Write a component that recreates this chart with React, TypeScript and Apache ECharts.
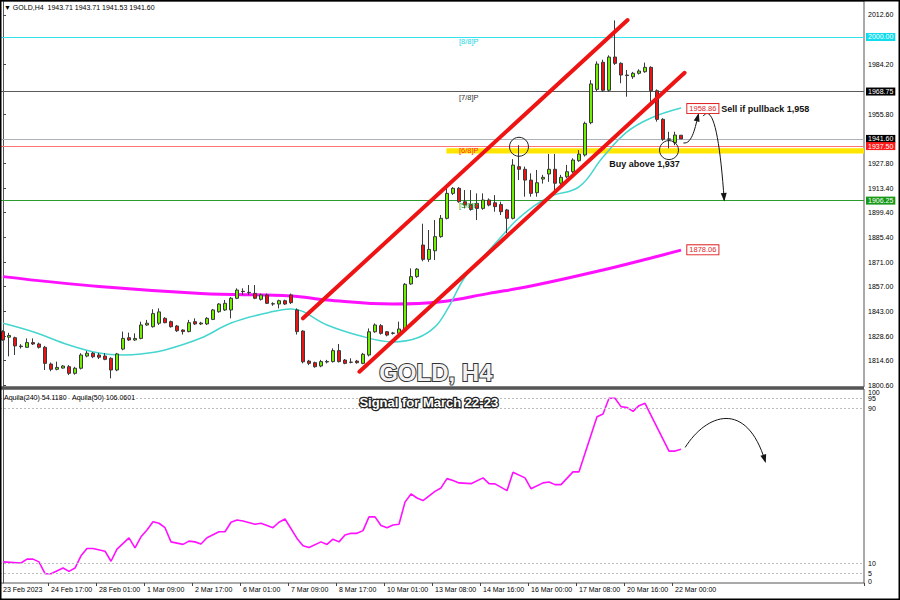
import React, { useEffect, useRef } from "react";
import * as echarts from "echarts";

// [open, high, low, close] for each H4 bar
const candles: [number, number, number, number][] = [
  [1831.2, 1832.0, 1826.0, 1826.4], [1828.0, 1830.5, 1817.0, 1829.0], [1827.7, 1828.3, 1817.8, 1823.0],
  [1822.6, 1824.0, 1821.5, 1822.9], [1822.2, 1827.3, 1821.8, 1824.9], [1824.9, 1827.3, 1823.5, 1824.1],
  [1824.1, 1824.9, 1821.5, 1822.2], [1822.2, 1823.0, 1809.2, 1813.0], [1812.6, 1813.5, 1808.5, 1809.6],
  [1809.6, 1814.0, 1809.0, 1810.7], [1810.3, 1812.0, 1810.0, 1811.5], [1811.1, 1812.0, 1806.3, 1807.3],
  [1807.3, 1811.0, 1806.5, 1810.2], [1810.2, 1818.8, 1809.5, 1817.8], [1817.2, 1820.1, 1816.5, 1818.8],
  [1818.8, 1819.5, 1816.0, 1816.8], [1817.8, 1819.0, 1815.5, 1816.5], [1817.2, 1818.8, 1814.8, 1815.3],
  [1815.9, 1816.5, 1804.4, 1809.2], [1809.2, 1819.0, 1808.5, 1818.4], [1821.2, 1831.2, 1820.5, 1827.3],
  [1827.7, 1830.6, 1825.8, 1826.4], [1826.4, 1830.2, 1825.9, 1827.3], [1827.3, 1836.9, 1826.8, 1835.0],
  [1835.0, 1837.9, 1834.5, 1836.0], [1834.0, 1844.0, 1833.5, 1841.5], [1836.0, 1844.5, 1835.0, 1842.5],
  [1838.8, 1839.5, 1836.0, 1836.3], [1836.9, 1837.5, 1833.5, 1834.0], [1834.4, 1835.0, 1831.0, 1831.7],
  [1832.1, 1832.5, 1829.5, 1831.2], [1831.2, 1837.9, 1830.8, 1836.3], [1836.9, 1838.8, 1835.0, 1835.6],
  [1835.6, 1836.8, 1835.0, 1836.1], [1835.6, 1839.5, 1835.0, 1838.8], [1838.2, 1844.2, 1837.8, 1843.6],
  [1842.6, 1847.5, 1842.0, 1847.0], [1843.6, 1849.3, 1843.0, 1847.4], [1843.6, 1851.0, 1838.8, 1850.3],
  [1850.3, 1856.0, 1849.8, 1855.0], [1854.1, 1856.0, 1852.2, 1854.3], [1853.7, 1857.9, 1852.2, 1853.5],
  [1853.1, 1857.9, 1849.8, 1850.3], [1849.7, 1853.0, 1849.0, 1852.2], [1852.2, 1853.0, 1847.0, 1847.4],
  [1847.0, 1848.0, 1846.0, 1847.2], [1847.0, 1849.5, 1844.5, 1848.9], [1848.9, 1849.5, 1846.5, 1847.0],
  [1852.2, 1853.0, 1847.0, 1847.8], [1843.6, 1844.5, 1829.5, 1831.2], [1831.5, 1832.0, 1813.0, 1813.9],
  [1814.3, 1815.0, 1812.0, 1813.0], [1813.4, 1814.0, 1810.5, 1811.1], [1811.5, 1815.0, 1810.8, 1814.0],
  [1813.8, 1815.0, 1813.0, 1814.1], [1814.0, 1821.6, 1813.5, 1820.3], [1820.3, 1824.1, 1813.5, 1814.0],
  [1814.9, 1815.5, 1812.5, 1813.0], [1813.6, 1815.9, 1813.0, 1813.7], [1814.3, 1815.0, 1812.8, 1813.4],
  [1813.0, 1819.0, 1812.5, 1818.2], [1817.8, 1833.0, 1817.0, 1831.1], [1831.1, 1835.9, 1830.5, 1835.0],
  [1834.6, 1835.5, 1829.5, 1830.2], [1831.1, 1831.5, 1828.5, 1829.2], [1830.2, 1831.0, 1829.5, 1830.4],
  [1830.2, 1836.9, 1829.8, 1832.7], [1831.7, 1859.0, 1831.0, 1858.3], [1858.5, 1867.4, 1858.0, 1862.7],
  [1862.7, 1867.6, 1862.0, 1867.0], [1880.8, 1893.0, 1871.5, 1872.6], [1872.6, 1889.4, 1871.2, 1878.3],
  [1877.5, 1895.1, 1872.2, 1885.6], [1885.6, 1898.0, 1885.0, 1896.1], [1896.1, 1914.2, 1895.5, 1910.4],
  [1910.4, 1914.0, 1909.5, 1913.3], [1913.3, 1914.0, 1905.0, 1905.6], [1905.6, 1912.3, 1901.8, 1903.7],
  [1904.0, 1912.3, 1900.5, 1901.2], [1904.7, 1910.4, 1895.1, 1901.8], [1901.8, 1910.4, 1901.0, 1906.6],
  [1906.6, 1907.5, 1903.0, 1903.7], [1905.0, 1909.4, 1899.9, 1902.8], [1904.0, 1905.6, 1898.0, 1899.9],
  [1900.9, 1901.5, 1887.5, 1896.1], [1896.1, 1930.0, 1895.5, 1926.6], [1925.7, 1938.0, 1918.0, 1924.2],
  [1924.2, 1925.7, 1908.5, 1918.0], [1918.0, 1921.9, 1908.5, 1910.4], [1910.8, 1923.8, 1908.5, 1916.5],
  [1918.6, 1921.0, 1916.0, 1919.6], [1921.5, 1933.0, 1917.0, 1924.2], [1924.2, 1933.0, 1911.4, 1916.2],
  [1916.2, 1921.0, 1915.0, 1919.6], [1919.9, 1926.7, 1919.0, 1922.8], [1922.8, 1930.5, 1922.0, 1929.5],
  [1929.1, 1935.2, 1928.5, 1932.9], [1932.4, 1951.5, 1931.5, 1950.5], [1950.9, 1975.3, 1950.0, 1973.1],
  [1970.0, 1986.0, 1969.0, 1984.5], [1985.5, 1987.0, 1968.5, 1969.5], [1969.5, 1989.5, 1968.5, 1988.5],
  [1988.5, 2009.5, 1984.0, 1984.9], [1984.9, 1985.5, 1973.5, 1978.2], [1978.2, 1981.1, 1965.8, 1977.9],
  [1977.2, 1980.0, 1976.0, 1979.2], [1979.2, 1981.5, 1978.5, 1980.5], [1980.1, 1985.3, 1979.5, 1982.6],
  [1982.6, 1983.2, 1962.9, 1969.2], [1969.2, 1970.0, 1951.5, 1952.8], [1952.8, 1953.5, 1940.5, 1941.4],
  [1941.4, 1945.7, 1936.2, 1941.6], [1939.4, 1945.7, 1938.0, 1943.8], [1943.71, 1943.71, 1941.53, 1941.6],
];

const tickLabels = [
  "23 Feb 2023", "24 Feb 17:00", "28 Feb 01:00", "1 Mar 09:00", "2 Mar 17:00", "6 Mar 01:00",
  "7 Mar 09:00", "8 Mar 17:00", "10 Mar 01:00", "13 Mar 08:00", "14 Mar 16:00", "16 Mar 00:00",
  "17 Mar 08:00", "20 Mar 16:00", "22 Mar 00:00",
];
const TOTAL_SLOTS = 144;
const LABEL_EVERY = 8;

// moving averages: [bar index, price]
const maFast: [number, number][] = [
  [0, 1836.0], [5, 1831.1], [11, 1823.5], [16, 1818.9], [20, 1817.8], [23, 1818.4], [27, 1820.7],
  [33, 1827.5], [38, 1836.1], [44, 1841.9], [48, 1844.2], [54, 1835.0], [59, 1829.3], [65, 1825.3],
  [69, 1827.5], [72, 1833.9], [74, 1843.6], [77, 1862.5], [80, 1873.9], [83, 1885.4], [86, 1896.3],
  [91, 1908.3], [96, 1914.1], [100, 1931.2], [104, 1945.6], [108, 1953.6], [113, 1959.3],
];
const maSlow: [number, number][] = [
  [0, 1862.7], [16, 1857.0], [33, 1853.1], [48, 1851.6], [54, 1849.3], [65, 1847.0], [73, 1848.3],
  [81, 1853.1], [88, 1857.3], [100, 1866.5], [108, 1873.4], [113, 1877.9],
];

// Aquila oscillator: [bar index, value]
const aquila: [number, number][] = [
  [0, 10.9], [3, 10.3], [4, 12.3], [5, 12.3], [6, 10.9], [7, 4.8], [8, 4.8], [10, 7.7], [11, 6.0],
  [12, 7.7], [13, 14.0], [14, 17.8], [15, 17.8], [17, 16.4], [18, 11.2], [19, 17.5], [21, 23.3],
  [22, 18.1], [23, 23.8], [24, 27.3], [25, 31.6], [26, 30.8], [27, 28.5], [28, 21.2], [30, 19.9],
  [31, 21.6], [32, 21.2], [33, 20.1], [34, 23.3], [36, 26.4], [37, 26.4], [38, 31.3], [39, 32.5],
  [40, 32.0], [42, 30.3], [43, 30.8], [45, 28.5], [46, 31.3], [47, 33.0], [49, 23.0], [50, 19.2],
  [51, 18.3], [53, 21.2], [54, 19.9], [55, 22.6], [56, 21.2], [57, 24.7], [58, 25.6], [59, 25.6],
  [60, 27.0], [61, 34.1], [62, 34.1], [63, 29.6], [64, 28.5], [65, 29.9], [66, 30.3], [67, 41.7],
  [68, 45.9], [69, 43.8], [70, 42.5], [72, 47.2], [73, 49.0], [74, 53.8], [75, 52.8], [76, 51.6],
  [78, 51.2], [80, 54.2], [81, 51.2], [82, 51.1], [84, 47.6], [85, 57.1], [87, 54.2], [88, 48.6],
  [90, 51.6], [91, 52.1], [92, 50.7], [93, 50.7], [95, 57.3], [96, 57.3], [99, 85.7], [100, 87.1],
  [101, 95.2], [102, 95.2], [103, 90.9], [104, 90.5], [105, 88.5], [106, 91.4], [107, 92.6],
  [111, 68.0], [112, 68.0], [113, 68.9],
];

const priceTicks = [2012.6, 1984.2, 1955.8, 1927.8, 1913.4, 1899.4, 1885.4, 1871.0, 1857.0, 1843.0, 1828.6, 1814.6, 1800.6];
const oscTicks = [5, 10, 90, 95];
const oscEdgeTicks = [100, 0];
const oscLevels = [95, 90, 10, 5];
const levelPrices = [2000.0, 1968.75, 1941.6, 1937.5, 1906.25];
const levelNames = ["[8/8]P", "[7/8]P", "[6/8]P", "[5/8]P"];
const levelNamePrices = [1997.7, 1965.6, 1935.0, 1903.7];
const maFastValue = 1958.86;
const maSlowValue = 1878.06;
const header = "▼ GOLD,H4  1943.71 1943.71 1941.53 1941.60";
const oscHeader = "Aquila(240) 54.1180   Aquila(50) 106.0601";

// annotation anchors in [bar index, price]
const upperChannel: [number, number][] = [[50, 1838.8], [104.1, 2009.7]];
const lowerChannel: [number, number][] = [[59.4, 1808.2], [113.6, 1979.5]];
const bandStart = 73.9;
const bandPrices = [1936.2, 1933.3];
const circles: [number, number][] = [[86, 1937.1], [111, 1935.2]];
const arrowUp: [number, number][] = [[113.4, 1939.3], [114.9, 1938.4], [115.4, 1949.0], [115.9, 1955.6]];
const arrowDown: [number, number][] = [[116.7, 1954.7], [118.4, 1962.0], [119.5, 1941.0], [120.2, 1906.6]];
const oscArrow: [number, number][] = [[113.7, 69.9], [117.2, 87.1], [123.9, 94.9], [127.05, 62.6]];

export default function App() {
  const ref = useRef<HTMLDivElement>(null);

  useEffect(() => {
    const chart = echarts.init(ref.current!, null, { renderer: "svg" });
    const FONT = "Liberation Sans, Arial, sans-serif";
    const cats = Array.from({ length: TOTAL_SLOTS }, (_, i) => String(i));
    const labelInterval = (index: number) =>
      index % LABEL_EVERY === 0 && index / LABEL_EVERY < tickLabels.length;

    const levelLine = ["#30e4ee", "#5a5a5a", "#aab3bb", "#ff7474", "#2b9b2b"];
    const levelBg = ["#10dcee", "#000000", "#000000", "#ff1a1a", "#179917"];

    chart.setOption({
      animation: false,
      textStyle: { fontFamily: FONT },
      grid: [
        { left: -1, right: 36, top: 1, height: 386, show: true, borderColor: "#555", borderWidth: 1 },
        { left: -1, right: 36, top: 389, height: 194, show: true, borderColor: "#555", borderWidth: 1 },
      ],
      xAxis: [
        { type: "category", gridIndex: 0, data: cats, axisLine: { show: false }, axisTick: { show: false }, axisLabel: { show: false } },
        {
          type: "category", gridIndex: 1, data: cats, axisLine: { show: false },
          axisTick: { show: true, interval: labelInterval, length: 3, lineStyle: { color: "#444" } },
          axisLabel: {
            interval: labelInterval, formatter: (_v: string, i: number) => tickLabels[i / LABEL_EVERY] ?? "",
            align: "left", fontSize: 7, color: "#000", margin: 3,
          },
        },
        { type: "value", gridIndex: 0, min: -0.5, max: TOTAL_SLOTS - 0.5, show: false },
        { type: "value", gridIndex: 1, min: -0.5, max: TOTAL_SLOTS - 0.5, show: false },
      ],
      yAxis: [
        {
          type: "value", gridIndex: 0, position: "right", min: 1799.46, max: 2020.62, scale: true,
          splitLine: { show: false },
          axisLine: { show: true, lineStyle: { color: "#555" } },
          axisTick: { show: true, customValues: priceTicks, length: 3, lineStyle: { color: "#444" } },
          axisLabel: { customValues: priceTicks, formatter: (v: number) => v.toFixed(2), fontSize: 7, color: "#000", margin: 4 },
        },
        {
          type: "value", gridIndex: 1, position: "right", min: 0, max: 100,
          splitLine: { show: false },
          axisLine: { show: true, lineStyle: { color: "#555" } },
          axisTick: { show: false },
          axisLabel: { customValues: oscTicks, formatter: (v: number) => String(v), fontSize: 7, color: "#000", margin: 4 },
        },
      ],
      series: [
        {
          type: "line", xAxisIndex: 0, yAxisIndex: 0, data: maSlow, smooth: 0.4, showSymbol: false, z: 1,
          lineStyle: { color: "#ff10ff", width: 3 },
        },
        {
          type: "line", xAxisIndex: 0, yAxisIndex: 0, data: maFast, smooth: 0.4, showSymbol: false, z: 1,
          lineStyle: { color: "#45d6d0", width: 1.5 },
        },
        {
          type: "candlestick", xAxisIndex: 0, yAxisIndex: 0, z: 3, barWidth: 4,
          data: candles.map(([o, h, l, c]) => [o, c, l, h]),
          itemStyle: { color: "#6fee00", color0: "#ee1212", borderColor: "#3a3a3a", borderColor0: "#3a3a3a", borderWidth: 1 },
          markLine: {
            silent: true, symbol: ["none", "none"], z: 2,
            data: levelPrices.map((v, k) => ({
              yAxis: v,
              lineStyle: { color: levelLine[k], width: 1, type: "solid" },
              label: {
                show: true, position: "end", formatter: v.toFixed(2), distance: 2,
                backgroundColor: levelBg[k], color: "#fff", fontSize: 7, padding: [1, 2, 0, 2],
              },
            })),
          },
        },
        {
          type: "line", xAxisIndex: 1, yAxisIndex: 1, data: aquila, showSymbol: false,
          lineStyle: { color: "#ff10ff", width: 1.6 },
          markLine: {
            silent: true, symbol: ["none", "none"],
            data: oscLevels.map((v) => ({ yAxis: v })),
            lineStyle: { color: "#bdbdbd", width: 1, type: [2, 2] },
            label: { show: false },
          },
        },
      ],
    });

    const P = (pt: [number, number]) => chart.convertToPixel({ xAxisIndex: 2, yAxisIndex: 0 }, pt) as number[];
    const Q = (pt: [number, number]) => chart.convertToPixel({ xAxisIndex: 3, yAxisIndex: 1 }, pt) as number[];

    const arrowHead = (tip: number[], from: number[]) => {
      const dx = tip[0] - from[0], dy = tip[1] - from[1];
      const d = Math.hypot(dx, dy) || 1;
      const ux = dx / d, uy = dy / d;
      const len = 7, half = 3;
      const bx = tip[0] - ux * len, by = tip[1] - uy * len;
      return {
        type: "polygon", z: 30,
        shape: { points: [[tip[0] + ux * 1.5, tip[1] + uy * 1.5], [bx - uy * half, by + ux * half], [bx + uy * half, by - ux * half]] },
        style: { fill: "#151515" },
      };
    };
    const curve = (pts: number[][]) => ({
      type: "bezierCurve", z: 30,
      shape: { x1: pts[0][0], y1: pts[0][1], cpx1: pts[1][0], cpy1: pts[1][1], cpx2: pts[2][0], cpy2: pts[2][1], x2: pts[3][0], y2: pts[3][1] },
      style: { stroke: "#151515", lineWidth: 1, fill: null },
    });
    const txt = (x: number, y: number, text: string, extra: any = {}) => ({
      type: "text", x, y, z: 40,
      style: { text, fontFamily: FONT, fontSize: 7, fill: "#000", align: "left", verticalAlign: "middle", ...extra },
    });

    const els: any[] = [];
    // panel separator
    els.push({ type: "rect", z: 45, shape: { x: 0, y: 386.5, width: 864, height: 3 }, style: { fill: "#555" } });
    // oscillator edge labels (nudged inward like the terminal does)
    oscEdgeTicks.forEach((v) => {
      const p = Q([TOTAL_SLOTS - 0.5, v]);
      els.push(txt(p[0] + 4, p[1] + (v === 100 ? 3 : -2), String(v), { fontSize: 7 }));
    });
    // yellow band
    const b0 = P([bandStart, bandPrices[0]]);
    const b1 = P([TOTAL_SLOTS - 0.5, bandPrices[1]]);
    els.push({ type: "rect", z: 1, shape: { x: b0[0], y: b0[1], width: b1[0] - b0[0], height: b1[1] - b0[1] }, style: { fill: "#ffe600" } });
    // channel lines
    [upperChannel, lowerChannel].forEach((ln) => {
      const a = P(ln[0]), b = P(ln[1]);
      els.push({ type: "line", z: 20, shape: { x1: a[0], y1: a[1], x2: b[0], y2: b[1] }, style: { stroke: "#ee1414", lineWidth: 4, lineCap: "round" } });
    });
    // circles
    circles.forEach((c) => {
      const p = P(c);
      els.push({ type: "circle", z: 25, shape: { cx: p[0], cy: p[1], r: 9.5 }, style: { fill: "none", stroke: "#222", lineWidth: 1 } });
    });
    // arrows
    const au = arrowUp.map(P), ad = arrowDown.map(P), ao = oscArrow.map(Q);
    els.push(curve(au), arrowHead(au[3], au[2]));
    els.push(curve(ad), arrowHead(ad[3], ad[2]));
    els.push(curve(ao), arrowHead(ao[3], ao[2]));
    // level names
    const nameColors = ["#22d4e2", "#333333", "#ff2a2a", "#2b9b2b"];
    levelNames.forEach((n, k) => {
      const p = P([76, levelNamePrices[k]]);
      els.push(txt(p[0], p[1], n, { fill: nameColors[k], fontSize: 7.5 }));
    });
    // notes
    const sell = P([119.7, 1958.7]);
    els.push(txt(sell[0], sell[1], "Sell if pullback 1,958", { fontWeight: "bold", fontSize: 9, fill: "#111" }));
    const buy = P([101.05, 1927.2]);
    els.push(txt(buy[0], buy[1], "Buy above 1,937", { fontWeight: "bold", fontSize: 9, fill: "#111" }));
    // MA value boxes
    [[maFastValue, 1959.0], [maSlowValue, maSlowValue]].forEach(([val, at]) => {
      const p = P([114.05, at]);
      els.push(txt(p[0], p[1], val.toFixed(2), {
        fill: "#e02828", backgroundColor: "#ffffff", borderColor: "#e02828", borderWidth: 1, padding: [1, 2, 0, 2], fontSize: 7.5,
      }));
    });
    // big titles (white with dark outline and soft shadow)
    const g = P([62.7, 1808.0]);
    els.push(txt(g[0], g[1], "GOLD, H4", {
      fontSize: 24, fontWeight: "bold", fill: "#f2f2f2", stroke: "#333", lineWidth: 2,
      shadowColor: "rgba(0,0,0,0.55)", shadowBlur: 3, shadowOffsetX: 2, shadowOffsetY: 2,
    }));
    const s = Q([59.4, 92.8]);
    els.push(txt(s[0], s[1], "Signal for March 22-23", {
      fontSize: 13, fontWeight: "bold", fill: "#ffffff", stroke: "#222", lineWidth: 2.5,
      shadowColor: "rgba(0,0,0,0.5)", shadowBlur: 2, shadowOffsetX: 1.5, shadowOffsetY: 1.5,
    }));
    // headers
    els.push(txt(4, 7, header, { fontSize: 7 }));
    els.push(txt(4, 397, oscHeader, { fontSize: 7 }));
    // outer frame
    els.push({ type: "rect", z: 50, shape: { x: 0.75, y: 0.75, width: 898.5, height: 598.5 }, style: { fill: "none", stroke: "#000", lineWidth: 1.5 } });

    chart.setOption({ graphic: els });

    return () => chart.dispose();
  }, []);

  return (
    <div
      ref={ref}
      style={{ position: "fixed", left: 0, top: 0, width: 900, height: 600, background: "#fff" }}
    />
  );
}
